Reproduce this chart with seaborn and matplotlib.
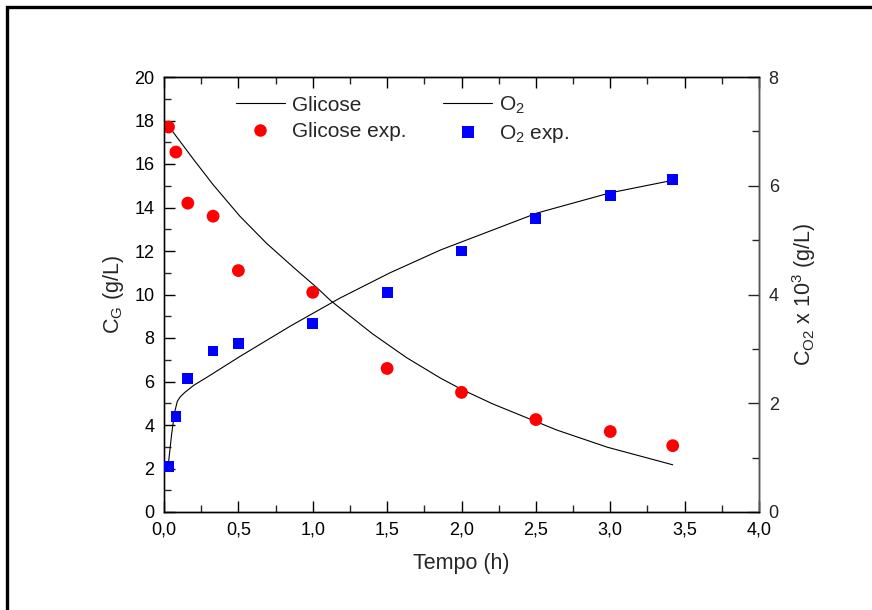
import matplotlib
matplotlib.use("Agg")
import matplotlib.pyplot as plt
from matplotlib.ticker import MultipleLocator, FixedLocator, FixedFormatter
from matplotlib.patches import Rectangle
from matplotlib.lines import Line2D
import seaborn as sns
import pandas as pd

# ---- data ----
t_exp = [0.03, 0.08, 0.16, 0.33, 0.5, 1.0, 1.5, 2.0, 2.5, 3.0, 3.42]
glicose_exp = [17.7, 16.55, 14.2, 13.6, 11.1, 10.1, 6.6, 5.5, 4.25, 3.7, 3.05]
o2_exp = [0.84, 1.76, 2.46, 2.96, 3.1, 3.46, 4.04, 4.8, 5.4, 5.82, 6.12]

t_glic_model = [0.03, 0.2, 0.33, 0.51, 0.69, 0.87, 1.03, 1.12, 1.4, 1.63, 1.86, 2.0, 2.21, 2.64, 2.98, 3.42]
glicose_model = [17.75, 16.2, 15.05, 13.6, 12.35, 11.25, 10.3, 9.72, 8.2, 7.1, 6.15, 5.64, 4.97, 3.77, 2.98, 2.17]

t_o2_model = [0.03, 0.05, 0.07, 0.09, 0.11, 0.14, 0.2, 0.29, 0.51, 0.85, 1.18, 1.52, 1.86, 2.51, 3.0, 3.42]
o2_model = [0.9, 1.4, 1.82, 2.04, 2.12, 2.2, 2.33, 2.48, 2.86, 3.42, 3.93, 4.4, 4.82, 5.5, 5.87, 6.1]

xtick_values = [0.0, 0.5, 1.0, 1.5, 2.0, 2.5, 3.0, 3.5, 4.0]
xtick_labels = ["0,0", "0,5", "1,0", "1,5", "2,0", "2,5", "3,0", "3,5", "4,0"]

df_exp = pd.DataFrame({"t": t_exp, "glic": glicose_exp, "o2": o2_exp})
df_gm = pd.DataFrame({"t": t_glic_model, "glic": glicose_model})
df_om = pd.DataFrame({"t": t_o2_model, "o2": o2_model})

# ---- style ----
sns.set_theme(style="ticks")
plt.rcParams["font.family"] = ["Liberation Sans", "DejaVu Sans"]
plt.rcParams["mathtext.fontset"] = "custom"
plt.rcParams["mathtext.rm"] = "Liberation Sans"
plt.rcParams["mathtext.it"] = "Liberation Sans:italic"

fig = plt.figure(figsize=(8.72, 6.10), dpi=100)
fig.patch.set_facecolor("white")
ax = fig.add_axes([164 / 872, 1 - 512 / 610, (759 - 164) / 872, (512 - 77) / 610])
ax2 = ax.twinx()

# glucose
sns.lineplot(data=df_gm, x="t", y="glic", ax=ax, color="black", linewidth=0.8,
             sort=False, legend=False)
sns.scatterplot(data=df_exp, x="t", y="glic", ax=ax, color="#ff0000", marker="o",
                s=85, edgecolor="none", legend=False, zorder=3)
# O2
sns.lineplot(data=df_om, x="t", y="o2", ax=ax2, color="black", linewidth=0.8,
             sort=False, legend=False)
sns.scatterplot(data=df_exp, x="t", y="o2", ax=ax2, color="#0000ff", marker="s",
                s=60, edgecolor="none", legend=False, zorder=3)

ax.set_xlim(0, 4)
ax.set_ylim(0, 20)
ax2.set_ylim(0, 8)

ax.xaxis.set_major_locator(FixedLocator(xtick_values))
ax.xaxis.set_major_formatter(FixedFormatter(xtick_labels))
ax.xaxis.set_minor_locator(MultipleLocator(0.25))
ax.yaxis.set_major_locator(MultipleLocator(2))
ax.yaxis.set_minor_locator(MultipleLocator(1))
ax2.yaxis.set_major_locator(MultipleLocator(2))
ax2.yaxis.set_minor_locator(MultipleLocator(1))

ax.tick_params(axis="both", which="major", direction="in", length=8, width=1,
               labelsize=13, colors="black", pad=7)
ax.tick_params(axis="both", which="minor", direction="in", length=5, width=1)
ax.tick_params(axis="x", top=True, which="both")
ax.tick_params(axis="y", left=True, right=False, which="both")
ax2.tick_params(axis="y", which="major", direction="in", length=8, width=1,
                labelsize=13, pad=7)
ax2.tick_params(axis="y", which="minor", direction="in", length=5, width=1)

for a in (ax, ax2):
    for s in a.spines.values():
        s.set_visible(True)
        s.set_linewidth(1.0)
        s.set_color("black")
ax.spines["left"].set_color("#555555")
ax2.spines["right"].set_color("#555555")

ax.set_xlabel("Tempo (h)", fontsize=15.5, labelpad=10)
ax.set_ylabel(r"C$_\mathrm{G}$ (g/L)", fontsize=15.5, labelpad=6)
ax2.set_ylabel(r"C$_\mathrm{O2}$ x 10$^\mathrm{3}$ (g/L)", fontsize=15.5, labelpad=8)

ax.set_facecolor("white")
ax2.patch.set_visible(False)

# legend
handles = [
    Line2D([], [], color="black", linewidth=0.8),
    Line2D([], [], color="#ff0000", marker="o", linestyle="none", markersize=9, markeredgewidth=0),
    Line2D([], [], color="black", linewidth=0.8),
    Line2D([], [], color="#0000ff", marker="s", linestyle="none", markersize=8.5, markeredgewidth=0),
]
labels = ["Glicose", "Glicose exp.", r"O$_\mathrm{2}$", r"O$_\mathrm{2}$ exp."]
leg = ax2.legend(handles, labels, ncol=2, loc="upper left",
                 bbox_to_anchor=(0.1, 0.988), frameon=False, fontsize=15,
                 handlelength=2.35, handletextpad=0.35, columnspacing=1.75,
                 labelspacing=0.35, borderaxespad=0.2)

# outer figure border (clipped at right/bottom)
fig.patches.append(Rectangle((7 / 872, -0.05), 1.2, 1 - 7 / 610 + 0.05,
                             transform=fig.transFigure, fill=False,
                             edgecolor="black", linewidth=2.4))

fig.savefig("out.png", dpi=100, facecolor="white")
